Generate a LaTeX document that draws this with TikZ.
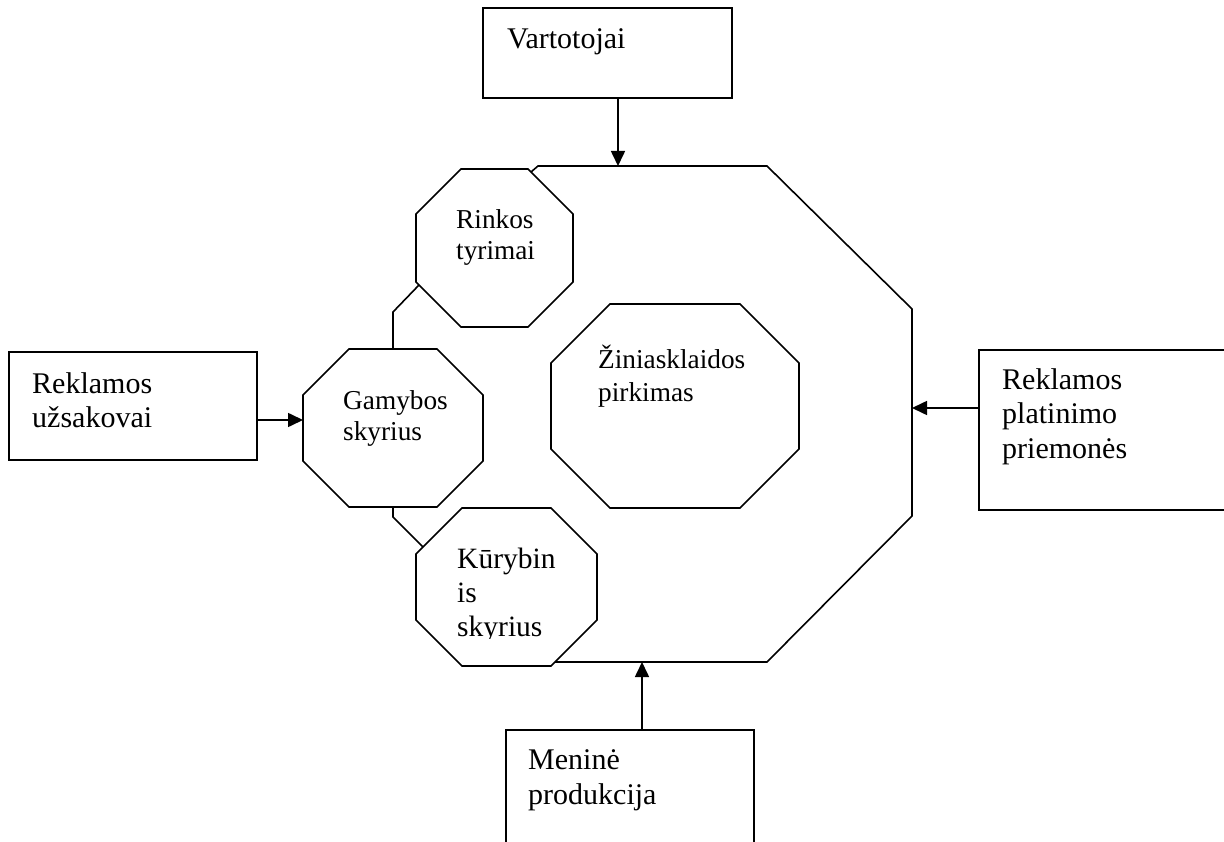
\documentclass[tikz,border=0pt]{standalone}
\usepackage{fontspec}
\setmainfont{Liberation Serif}
\usetikzlibrary{calc,arrows.meta}

% Octagon drawn around a named, invisible rectangle node: #1 node, #2 corner cut (pt)
\newcommand\octframe[2]{%
  \draw[outline] ($(#1.north west)+(#2pt,0pt)$) -- ($(#1.north east)+(-#2pt,0pt)$)
    -- ($(#1.north east)+(0pt,-#2pt)$) -- ($(#1.south east)+(0pt,#2pt)$)
    -- ($(#1.south east)+(-#2pt,0pt)$) -- ($(#1.south west)+(#2pt,0pt)$)
    -- ($(#1.south west)+(0pt,#2pt)$) -- ($(#1.north west)+(0pt,-#2pt)$) -- cycle;}

\begin{document}
\begin{tikzpicture}[x=1pt,y=-1pt,
  outline/.style={draw=black,line width=1.6pt,line join=miter},
  frame/.style={draw=black,line width=1.6pt,rectangle,inner sep=0pt,outer sep=0pt},
  hub/.style={rectangle,draw=none,inner sep=0pt,outer sep=0pt},
  flow/.style={draw=black,line width=1.6pt,-{Triangle[length=15pt,width=14pt]}},
  boxtext/.style={anchor=base west,inner sep=0pt,align=left,font=\fontsize{30}{34.5}\selectfont},
  octtext/.style={anchor=base west,inner sep=0pt,align=left,font=\fontsize{27.3}{31}\selectfont},
  widetext/.style={anchor=base west,inner sep=0pt,align=left,font=\fontsize{27.3}{33}\selectfont},
  bigtext/.style={anchor=base west,inner sep=0pt,align=left,font=\fontsize{29.5}{34}\selectfont},
]
\useasboundingbox (0,0) rectangle (1224,842);
\clip (0,0) rectangle (1224,842);

% outer rectangles
\node[frame,minimum width=249pt,minimum height=90pt] (vart) at (607.5,53) {};
\node[frame,minimum width=248pt,minimum height=108pt] (lbox) at (133,406) {};
\node[frame,minimum width=250pt,minimum height=160pt] (rbox) at (1104,430) {};
\node[frame,minimum width=248pt,minimum height=130pt] (mbox) at (630,795) {};

% texts are anchored at the baseline of their last line
\node[boxtext] (vart-t) at ($(vart.north west)+(24pt,-41pt)$) {Vartotojai};
\node[boxtext] (lbox-t) at ($(lbox.north west)+(23pt,-75.5pt)$) {Reklamos\\užsakovai};
\node[boxtext] (rbox-t) at ($(rbox.north west)+(23pt,-108pt)$) {Reklamos\\platinimo\\priemonės};
\node[boxtext] (mbox-t) at ($(mbox.north west)+(22pt,-74pt)$) {Meninė\\produkcija};

% inner octagons
\node[hub,minimum width=157pt,minimum height=158pt] (rinkos) at (494.5,248) {};
\node[hub,minimum width=180pt,minimum height=158pt] (gamybos) at (393,428) {};
\node[hub,minimum width=181pt,minimum height=158pt] (kury) at (506.5,587) {};
\node[hub,minimum width=248pt,minimum height=204pt] (zinia) at (675,406) {};

\octframe{rinkos}{45}
\octframe{gamybos}{46}
\octframe{kury}{46}
\octframe{zinia}{59}

\node[octtext] (rinkos-t) at ($(rinkos.north west)+(40pt,-91pt)$) {Rinkos\\tyrimai};
\node[octtext] (gamybos-t) at ($(gamybos.north west)+(40pt,-91pt)$) {Gamybos\\skyrius};
\node[widetext] (zinia-t) at ($(zinia.north west)+(47pt,-98pt)$) {Žiniasklaidos\\pirkimas};
\begin{scope}
  \clip (416,508) rectangle (597,638);
  \node[bigtext] (kury-t) at ($(kury.north west)+(41pt,-128pt)$) {Kūrybin\\is\\skyrius};
\end{scope}

% joints of the outer hull and the connectors
\coordinate (rinkos-join) at ($(rinkos.north east)+(-42pt,-3pt)$);
\coordinate (kury-join) at ($(kury.south east)+(-42pt,4pt)$);
\coordinate (rinkos-low) at ($(rinkos.south west)+(3pt,42pt)$);
\coordinate (kury-high) at ($(kury.north west)+(7pt,-39pt)$);

\draw[outline] (rinkos-join) -- (538,166) -- (767,166) -- (912,309)
  -- (912,516) -- (767,662) -- (kury-join);

\draw[outline] (rinkos-low) -- ($(gamybos.north)+(0pt,37pt)$) -- (gamybos.north);
\draw[outline] (gamybos.south) -- ($(gamybos.south)+(0pt,-10pt)$) -- (kury-high);

% arrow targets on the hull
\coordinate (top-in) at (618,166);
\coordinate (right-in) at (912,408);
\coordinate (bottom-in) at (642,662);
\coordinate (left-in) at ($(gamybos.west)+(0pt,8pt)$);

\draw[flow] (vart.south -| top-in) -- (top-in);
\draw[flow] (lbox.east |- left-in) -- (left-in);
\draw[flow] (rbox.west |- right-in) -- (right-in);
\draw[flow] (mbox.north -| bottom-in) -- (bottom-in);
\end{tikzpicture}
\end{document}
